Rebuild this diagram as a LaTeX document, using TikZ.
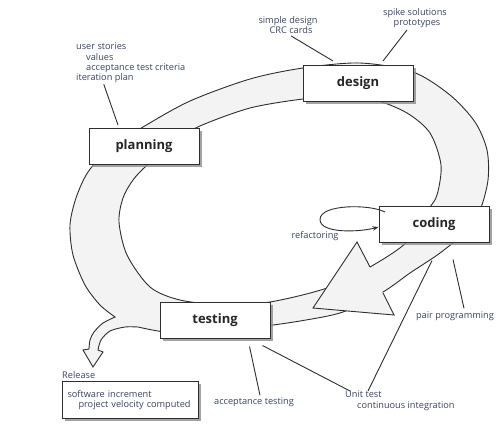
\documentclass[tikz,border=0pt]{standalone}
\usepackage{fontspec}
\setmainfont{Open Sans}
\usetikzlibrary{shadows,arrows.meta}
\definecolor{notecol}{RGB}{58,68,96}
\definecolor{bandcol}{RGB}{243,243,243}
\definecolor{edgecol}{RGB}{45,45,50}
\begin{document}
\begin{tikzpicture}[x=1pt,y=-1pt,
    band/.style={fill=bandcol,draw=edgecol,line width=0.9pt},
    phase/.style={draw=edgecol,fill=white,line width=1pt,minimum width=110pt,minimum height=36pt,
      font=\bfseries\fontsize{13}{15}\selectfont,text=black!85,
      drop shadow={shadow xshift=2.5pt,shadow yshift=-2.5pt,fill=black!45,opacity=.8}},
    note/.style={font=\fontsize{9.2}{10.3}\selectfont,text=notecol,inner sep=0pt},
    lead/.style={draw=edgecol,line width=0.9pt}]
  \useasboundingbox (0,0) rectangle (502,424);
  \filldraw[band,even odd rule]
    plot[smooth] coordinates {(115,317) (100,305) (85,285) (73,255) (70,225) (76,198) (88,172)
      (110,148) (143,127) (190,101) (250,79) (303,68) (360,63) (413,72) (450,95) (475,122)
      (487,150) (488,180) (480,210) (465,232) (440,253) (410,273) (383,292) (343,312)
      (300,321) (250,328) (200,333) (165,332) (138,327)}
    -- plot[smooth] coordinates {(138,327) (125,327) (110,331) (101,340) (98,350)}
    -- (103,352) -- (93,367) -- (83,350) -- (89,349)
    -- plot[smooth] coordinates {(89,349) (90,340) (94,332) (103,323) (115,317)} -- cycle
    plot[smooth cycle] coordinates {(119,222) (123,198) (133,180) (147,165) (173,142) (200,126)
      (250,108) (303,99) (340,97) (375,100) (407,113) (430,133) (441,165) (437,195) (428,210)
      (407,242) (370,267) (327,288) (270,302) (225,305) (180,300) (150,287) (127,255)};
  \fill[bandcol] (357,242) -- (313,308) -- (394,315) -- cycle;
  \draw[lead,line join=miter] (370,267) -- (357,242) -- (313,308) -- (394,315) -- (383,293);
  \node[phase] (planning) at (144,146.5) {planning};
  \node[phase] (design) at (358,83.5) {design};
  \node[phase] (coding) at (434,224) {coding};
  \node[phase] (testing) at (215,320) {testing};
  \node[phase,anchor=north west,font=\fontsize{9.2}{10.3}\selectfont,text=notecol,
    minimum width=136pt,minimum height=37pt,text width=126pt,inner xsep=5pt,align=left]
    (release) at (62,381) {software increment\\\hspace*{11pt}project velocity computed};
  \node[note,anchor=south west] (rellbl) at ([yshift=2pt]release.north west) {Release};
  \node[note,anchor=north west,align=left] (stories) at (76,43)
    {user stories\\\hspace*{10pt}values\\\hspace*{10pt}acceptance test criteria\\iteration plan};
  \node[note,align=center] (simplbl) at (288,25) {simple design\\\hspace*{6pt}CRC cards};
  \node[note,align=center] (spikelbl) at (415,18) {spike solutions\\\hspace*{4pt}prototypes};
  \node[note] (reflbl) at (315,236) {refactoring};
  \node[note] (pairlbl) at (455,316) {pair programming};
  \node[note] (acclbl) at (254,402) {acceptance testing};
  \node[note,anchor=north west,align=left] (unitlbl) at (345,391)
    {Unit test\\\hspace*{12pt}continuous integration};
  \draw[lead,-{Stealth[length=6pt,width=4.5pt]}] (385,212) .. controls (370,204) and (320,204) .. (320,219.5)
    .. controls (320,234) and (360,232) .. ([yshift=-3pt]coding.west);
  \draw[lead] ([xshift=-27pt,yshift=-1pt]stories.south) -- ([xshift=-26pt,yshift=3pt]planning.north);
  \draw[lead] ([xshift=3pt,yshift=-2pt]simplbl.south) -- ([xshift=-25pt,yshift=4pt]design.north);
  \draw[lead] ([xshift=-8pt,yshift=-2pt]spikelbl.south) -- ([xshift=25pt,yshift=4pt]design.north);
  \draw[lead] ([xshift=19pt,yshift=-17pt]coding.south) -- ([xshift=9pt,yshift=3pt]pairlbl.north);
  \draw[lead] ([xshift=-2pt,yshift=-18pt]coding.south) -- ([xshift=23pt]unitlbl.north west);
  \draw[lead] ([xshift=-8pt,yshift=-7pt]testing.south east) -- ([xshift=5pt]unitlbl.north west);
  \draw[lead] ([xshift=-21pt,yshift=-8pt]testing.south east) -- ([xshift=6pt,yshift=2pt]acclbl.north);
\end{tikzpicture}
\end{document}
